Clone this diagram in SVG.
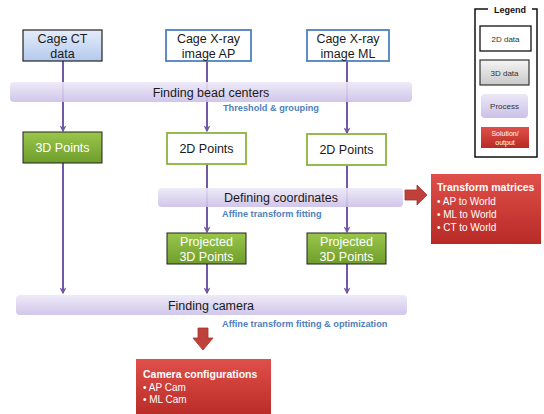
<svg xmlns="http://www.w3.org/2000/svg" width="544" height="414" viewBox="0 0 544 414">
<defs>
<linearGradient id="gBlue" x1="0" y1="0" x2="0" y2="1"><stop offset="0" stop-color="#e3ecfa"/><stop offset="1" stop-color="#b4caee"/></linearGradient>
<linearGradient id="gGreen" x1="0" y1="0" x2="0" y2="1"><stop offset="0" stop-color="#9bc64b"/><stop offset="1" stop-color="#6e9d2c"/></linearGradient>
<linearGradient id="gProc" x1="0" y1="0" x2="0" y2="1"><stop offset="0" stop-color="#ece8f7"/><stop offset="1" stop-color="#cbc0e8"/></linearGradient>
<linearGradient id="gRed" x1="0" y1="0" x2="0" y2="1"><stop offset="0" stop-color="#e0504a"/><stop offset="1" stop-color="#b82a26"/></linearGradient>
<linearGradient id="gGrey" x1="0" y1="0" x2="0" y2="1"><stop offset="0" stop-color="#f4f4f4"/><stop offset="1" stop-color="#c9c9c9"/></linearGradient>
<marker id="ah" viewBox="0 0 10 10" refX="8" refY="5" markerWidth="7" markerHeight="7" orient="auto" markerUnits="userSpaceOnUse">
<path d="M0,0 L10,5 L0,10 L3,5 z" fill="#7458a8"/>
</marker>
</defs>
<style>
text{font-family:"Liberation Sans","Noto Sans",sans-serif;}
.lbl{font-size:12.5px;fill:#1a1a1a;text-anchor:middle;}
.wl{font-size:12.5px;fill:#ffffff;text-anchor:middle;}
.sub{font-size:9.2px;font-weight:bold;fill:#4f81bd;}
.ln{stroke:#7458a8;stroke-width:2;fill:none;}
.proc{fill:url(#gProc);opacity:0.9;}
.red{fill:url(#gRed);}
.rt{font-size:10px;fill:#ffffff;}
.rtb{font-size:10.5px;font-weight:bold;fill:#ffffff;}
.lg{font-size:8px;fill:#333;text-anchor:middle;}
</style>
<rect width="544" height="414" fill="#ffffff"/>
<g id="connectors">
<line class="ln" x1="63" y1="61" x2="63" y2="131" marker-end="url(#ah)"/>
<line class="ln" x1="207" y1="61" x2="207" y2="131" marker-end="url(#ah)"/>
<line class="ln" x1="347" y1="61" x2="347" y2="133" marker-end="url(#ah)"/>
<line class="ln" x1="63" y1="163" x2="63" y2="293" marker-end="url(#ah)"/>
<line class="ln" x1="207" y1="164" x2="207" y2="232" marker-end="url(#ah)"/>
<line class="ln" x1="347" y1="165" x2="347" y2="232" marker-end="url(#ah)"/>
<line class="ln" x1="207" y1="264" x2="207" y2="293" marker-end="url(#ah)"/>
<line class="ln" x1="347" y1="264" x2="347" y2="293" marker-end="url(#ah)"/>
<path d="M405,190 L417,190 L417,185 L427,195 L417,205 L417,200 L405,200 Z" fill="#c0403a" stroke="#a33430" stroke-width="0.8"/>
<path d="M198,328 L208,328 L208,338 L213,338 L203,350 L193,338 L198,338 Z" fill="#c0403a" stroke="#a33430" stroke-width="0.8"/>
</g>
<g id="ct-data">
<rect x="23" y="30" width="79" height="31" fill="url(#gBlue)" stroke="#222" stroke-width="1.2"/>
<text class="lbl" x="62.5" y="43">Cage CT</text>
<text class="lbl" x="62.5" y="57.5">data</text>
</g>
<g id="xray-ap">
<rect x="166" y="30" width="85" height="31" fill="#fff" stroke="#4f81bd" stroke-width="1.8"/>
<text class="lbl" x="208.5" y="43">Cage X-ray</text>
<text class="lbl" x="208.5" y="57.5">image AP</text>
</g>
<g id="xray-ml">
<rect x="307" y="30" width="82" height="31" fill="#fff" stroke="#4f81bd" stroke-width="1.8"/>
<text class="lbl" x="348" y="43">Cage X-ray</text>
<text class="lbl" x="348" y="57.5">image ML</text>
</g>
<g id="finding-bead-centers">
<rect class="proc" x="10" y="82" width="402" height="20" rx="4"/>
<text class="lbl" x="211" y="96.5">Finding bead centers</text>
<text class="sub" x="223" y="111">Threshold &amp; grouping</text>
</g>
<g id="points-3d">
<rect x="23" y="132" width="79" height="31" fill="url(#gGreen)" stroke="#222" stroke-width="1"/>
<text class="wl" x="62.5" y="152">3D Points</text>
</g>
<g id="points-2d-ap">
<rect x="167" y="133" width="79" height="31" fill="#fff" stroke="#8cb33f" stroke-width="1.8"/>
<text class="lbl" x="206.5" y="153">2D Points</text>
</g>
<g id="points-2d-ml">
<rect x="307" y="134" width="79" height="31" fill="#fff" stroke="#8cb33f" stroke-width="1.8"/>
<text class="lbl" x="346.5" y="154">2D Points</text>
</g>
<g id="defining-coordinates">
<rect class="proc" x="158" y="188" width="245" height="19" rx="4"/>
<text class="lbl" x="281" y="202">Defining coordinates</text>
<text class="sub" x="222" y="217">Affine transform fitting</text>
</g>
<g id="transform-matrices">
<rect class="red" x="431" y="174" width="110" height="70"/>
<text class="rtb" x="437" y="191">Transform matrices</text>
<text class="rt" x="437" y="205">• AP to World</text>
<text class="rt" x="437" y="218">• ML to World</text>
<text class="rt" x="437" y="231">• CT to World</text>
</g>
<g id="projected-ap">
<rect x="167" y="233" width="79" height="31" fill="url(#gGreen)" stroke="#222" stroke-width="1"/>
<text class="wl" x="206.5" y="246">Projected</text>
<text class="wl" x="206.5" y="260.5">3D Points</text>
</g>
<g id="projected-ml">
<rect x="307" y="233" width="79" height="31" fill="url(#gGreen)" stroke="#222" stroke-width="1"/>
<text class="wl" x="346.5" y="246">Projected</text>
<text class="wl" x="346.5" y="260.5">3D Points</text>
</g>
<g id="finding-camera">
<rect class="proc" x="16" y="295" width="391" height="20" rx="4"/>
<text class="lbl" x="211" y="309.5">Finding camera</text>
<text class="sub" x="222" y="327">Affine transform fitting &amp; optimization</text>
</g>
<g id="camera-configurations">
<rect class="red" x="136" y="359" width="135" height="58"/>
<text class="rtb" x="143" y="378">Camera configurations</text>
<text class="rt" x="143" y="391">• AP Cam</text>
<text class="rt" x="143" y="403">• ML Cam</text>
</g>
<g id="legend">
<path d="M488,9 L475,9 L475,157 L537,157 L537,9 L532,9" fill="none" stroke="#111" stroke-width="1.5"/>
<text x="510" y="12.5" font-size="9" font-weight="bold" fill="#111" text-anchor="middle">Legend</text>
<rect x="480" y="26" width="51" height="25" fill="#fff" stroke="#111" stroke-width="1.3"/>
<text class="lg" x="505.5" y="41.5">2D data</text>
<rect x="480" y="60" width="49" height="25" fill="url(#gGrey)" stroke="#333" stroke-width="1.2"/>
<text class="lg" x="504.5" y="75.5">3D data</text>
<rect x="481" y="94" width="47" height="24" rx="4" fill="url(#gProc)"/>
<text class="lg" x="504.5" y="109">Process</text>
<rect x="481" y="127" width="48" height="21" fill="url(#gRed)"/>
<text x="505" y="136" font-size="7" fill="#fff" text-anchor="middle">Solution/</text>
<text x="505" y="145" font-size="7" fill="#fff" text-anchor="middle">output</text>
</g>
</svg>
